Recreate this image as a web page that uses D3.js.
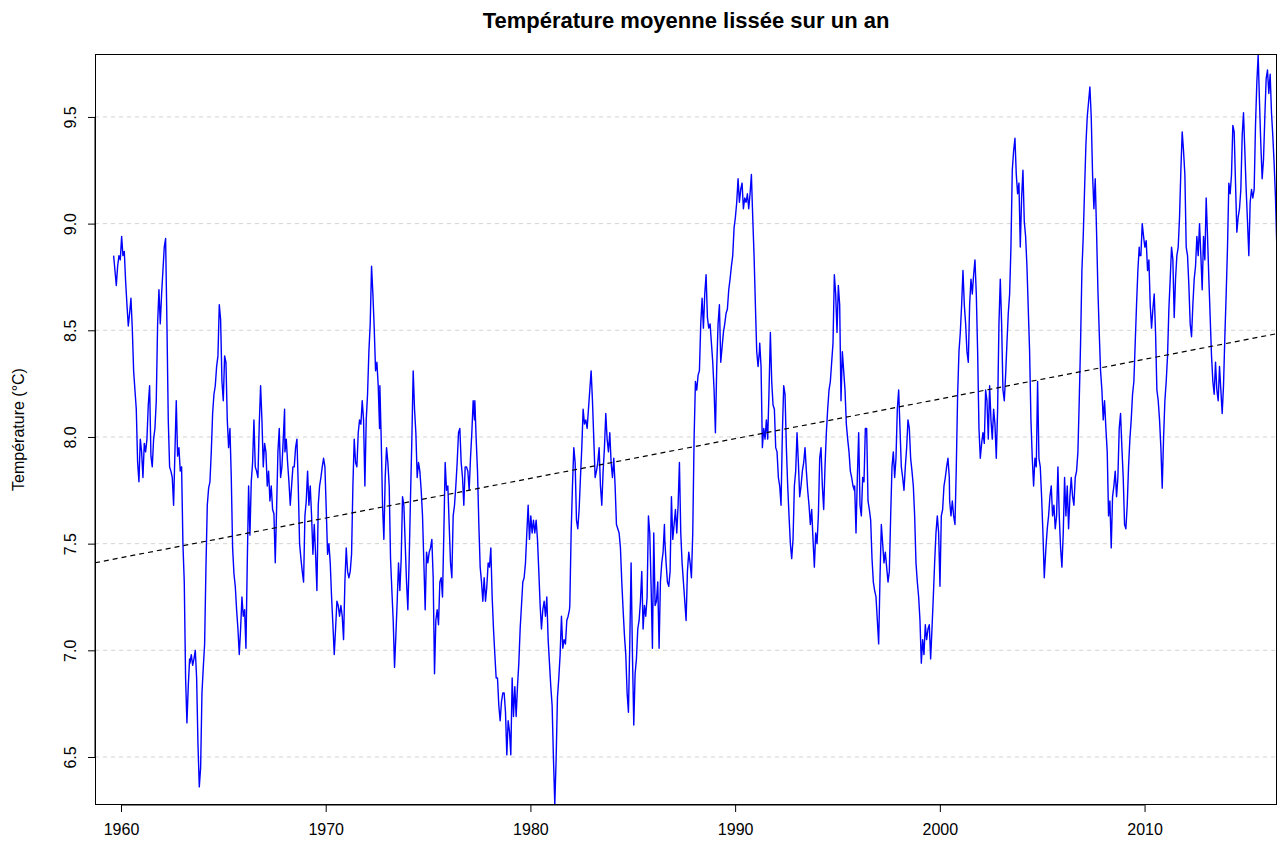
<!DOCTYPE html>
<html><head><meta charset="utf-8">
<script src="https://cdn.jsdelivr.net/npm/d3@7"></script>
<style>body{margin:0;background:#fff}svg{display:block}text{font-family:"Liberation Sans",Arial,Helvetica,sans-serif}</style>
</head><body><svg id="c" width="1279" height="849"></svg>
<script>
// ---- Data ----
const title = "Température moyenne lissée sur un an";
const yLabel = "Température (°C)";
const xTicks = [1960, 1970, 1980, 1990, 2000, 2010];
const yTicks = [6.5, 7.0, 7.5, 8.0, 8.5, 9.0, 9.5];
const xDomain = [1958.73, 2016.47];
const yDomain = [6.275, 9.795];
const trendIntercept1960 = 7.434;   // linear trend value at 1960
const trendSlope = 0.0186;          // °C per year
const stepYears = 0.0651;           // spacing between readings
const segStart = [1959.64, 1963.369, 1968.008, 1972.646, 1977.285, 1981.924, 1986.563, 1991.201, 1995.840, 2000.479, 2005.117, 2009.756];
const seg1 = [8.85,8.78,8.71,8.80,8.85,8.83,8.94,8.85,8.87,8.73,8.62,8.52,8.58,8.65,8.51,8.31,8.22,8.13,7.88,7.79,7.99,7.93,7.81,7.97,7.93,7.99,8.15,8.24,7.91,7.86,7.99,8.04,8.17,8.53,8.69,8.53,8.67,8.78,8.89,8.93,8.53,8.08,7.86,7.84,7.81,7.68,7.93,8.17,7.91,7.95,7.84,7.86,7.50,7.32,6.87,6.66,6.83,6.96];
const seg2 = [6.94,6.98,6.93,6.96,7.00,6.87,6.56,6.36,6.45,6.80,6.92,7.03,7.39,7.68,7.76,7.79,7.93,8.11,8.20,8.24,8.33,8.38,8.62,8.55,8.26,8.17,8.38,8.35,8.08,7.95,8.04,7.81,7.48,7.36,7.30,7.19,7.10,6.98,7.10,7.25,7.16,7.19,7.01,7.41,7.77,7.54,7.79,7.88,8.08,7.86,7.84,7.81,8.06,8.24,8.08,7.86,7.97,7.93,7.77,7.84,7.70,7.77,7.66,7.64,7.41,7.66,7.93,8.04,7.81,7.86,7.99,8.13];
const seg3 = [7.93,7.99,7.88,7.79,7.68,7.77,7.86,7.86,7.95,7.99,7.77,7.50,7.43,7.37,7.32,7.63,7.70,7.84,7.68,7.77,7.63,7.45,7.59,7.45,7.28,7.68,7.77,7.81,7.86,7.90,7.86,7.66,7.45,7.50,7.41,7.25,7.12,6.98,7.10,7.23,7.21,7.16,7.21,7.16,7.05,7.32,7.48,7.37,7.34,7.37,7.45,7.77,7.99,7.88,7.86,8.02,8.08,8.06,8.17,8.08,7.77,8.08,8.20,8.40,8.53,8.80,8.67,8.51,8.31,8.35,8.24,8.04];
const seg4 = [8.24,7.99,7.68,7.52,7.81,7.95,7.88,7.77,7.43,7.28,7.14,6.92,7.07,7.23,7.41,7.28,7.43,7.72,7.68,7.50,7.32,7.19,7.43,7.72,7.99,8.31,8.13,8.02,7.81,7.88,7.84,7.75,7.63,7.41,7.19,7.46,7.41,7.46,7.48,7.52,7.34,6.89,7.14,7.19,7.12,7.32,7.34,7.25,7.55,7.88,7.75,7.77,7.59,7.41,7.34,7.63,7.68,7.77,7.88,8.02,8.04,7.88,7.81,7.68,7.86,7.86,7.84,7.75,7.90,8.02,8.17,8.08];
const seg5 = [8.17,7.99,7.84,7.59,7.39,7.32,7.23,7.34,7.23,7.30,7.41,7.39,7.48,7.25,7.10,6.98,6.87,6.87,6.74,6.67,6.76,6.80,6.80,6.71,6.51,6.67,6.62,6.51,6.87,6.69,6.83,6.69,6.83,6.94,7.10,7.21,7.32,7.34,7.41,7.55,7.68,7.52,7.63,7.55,7.61,7.55,7.61,7.52,7.37,7.21,7.10,7.19,7.23,7.16,7.25,7.05,6.94,6.83,6.74,6.49,6.28,6.49,6.78,6.87,6.98,7.16,7.01,7.05,7.03,7.14,7.16,7.19];
const seg6 = [7.21,7.55,7.77,7.95,7.88,7.61,7.57,7.66,7.81,7.95,8.13,8.06,8.08,8.04,8.13,8.22,8.31,8.17,7.99,7.81,7.84,7.88,7.95,7.77,7.68,7.84,7.95,8.11,7.99,7.93,8.02,7.88,7.81,7.90,7.77,7.59,7.57,7.55,7.48,7.32,7.19,7.07,6.98,6.80,6.71,7.03,7.41,6.98,6.65,6.89,6.96,7.10,7.14,7.23,7.37,7.10,7.21,7.16,7.25,7.63,7.55,7.30,7.01,7.55,7.21,7.23,7.32,7.01,7.32,7.41,7.46,7.59];
const seg7 = [7.52,7.41,7.32,7.30,7.37,7.72,7.52,7.59,7.66,7.55,7.68,7.88,7.55,7.41,7.32,7.23,7.14,7.37,7.46,7.41,7.34,7.55,7.99,8.26,8.22,8.29,8.31,8.53,8.65,8.51,8.67,8.76,8.56,8.51,8.53,8.44,8.35,8.22,8.02,8.33,8.53,8.62,8.35,8.42,8.49,8.53,8.58,8.60,8.69,8.74,8.80,8.85,8.98,9.03,9.10,9.21,9.10,9.16,9.19,9.07,9.12,9.10,9.14,9.07,9.14,9.23,9.03,8.85,8.62,8.40,8.33,8.40];
const seg8 = [8.44,8.33,7.95,8.04,7.99,8.08,7.99,8.22,8.49,8.26,8.15,8.13,7.95,7.93,7.81,7.77,7.68,8.02,8.24,8.20,7.95,7.77,7.63,7.50,7.43,7.52,7.77,7.84,8.02,7.88,7.72,7.77,7.84,7.88,7.95,7.84,7.75,7.68,7.59,7.66,7.52,7.39,7.55,7.50,7.63,7.90,7.95,7.77,7.66,7.86,8.02,8.13,8.22,8.26,8.35,8.44,8.76,8.67,8.49,8.71,8.62,8.17,8.40,8.31,8.22,8.06,7.99,7.93,7.84,7.81,7.77,7.75];
const seg9 = [7.77,7.55,7.81,8.02,7.68,7.63,7.81,7.79,8.04,8.04,7.70,7.66,7.61,7.43,7.32,7.28,7.25,7.14,7.03,7.34,7.59,7.50,7.41,7.46,7.39,7.32,7.37,7.63,7.86,7.93,7.81,7.90,8.13,8.22,8.04,7.86,7.81,7.75,7.86,7.95,8.08,8.04,7.90,7.84,7.77,7.63,7.41,7.32,7.25,7.14,6.94,7.05,6.98,7.12,7.05,7.10,7.12,6.96,7.10,7.25,7.41,7.55,7.63,7.55,7.30,7.63,7.66,7.77,7.81,7.86,7.90,7.81];
const seg10 = [7.70,7.63,7.70,7.63,7.59,7.86,8.20,8.40,8.49,8.62,8.78,8.62,8.53,8.40,8.35,8.62,8.74,8.67,8.76,8.83,8.67,8.40,8.04,7.90,7.97,8.02,7.97,8.22,8.17,7.99,8.24,8.08,7.99,8.13,8.06,7.90,8.13,8.53,8.74,8.53,8.22,8.17,8.29,8.44,8.58,8.67,8.89,9.25,9.34,9.40,9.23,9.14,9.19,8.89,9.12,9.25,9.01,8.94,8.80,8.60,8.40,8.08,7.90,7.77,7.90,7.86,8.26,7.90,7.86,7.72,7.55,7.34];
const seg11 = [7.37,7.48,7.57,7.63,7.72,7.77,7.63,7.68,7.57,7.63,7.86,7.63,7.48,7.39,7.55,7.81,7.63,7.77,7.57,7.72,7.81,7.72,7.68,7.81,7.84,7.93,8.17,8.44,8.78,8.94,9.16,9.37,9.50,9.57,9.64,9.50,9.23,9.07,9.21,8.96,8.69,8.49,8.31,8.22,8.08,8.17,8.04,7.93,7.63,7.70,7.48,7.72,7.77,7.84,7.72,7.81,8.04,8.11,7.95,7.81,7.59,7.57,7.68,7.86,7.99,8.08,8.20,8.26,8.44,8.62,8.78,8.89];
const seg12 = [8.85,8.85,9.00,8.94,8.89,8.92,8.78,8.83,8.62,8.51,8.60,8.67,8.49,8.22,8.17,8.08,7.95,7.76,7.99,8.17,8.26,8.38,8.60,8.74,8.89,8.83,8.56,8.74,8.85,8.89,9.03,9.25,9.43,9.34,9.23,8.89,8.85,8.71,8.53,8.47,8.62,8.74,8.80,8.94,8.85,9.00,8.85,8.69,8.94,8.83,9.12,8.94,8.74,8.56,8.38,8.26,8.20,8.35,8.22,8.17,8.33,8.22,8.11,8.24,8.47,8.67,8.89,9.19,9.14,9.23,9.46,9.43,9.19,8.96,9.03,9.07,9.16,9.41,9.52,9.34,9.16,9.01,8.85,9.10,9.16,9.12,9.16,9.46,9.66,9.79,9.57,9.37,9.21,9.30,9.50,9.68,9.72,9.61,9.70,9.52,9.41,9.28,9.12,8.89];

const segments = [seg1,seg2,seg3,seg4,seg5,seg6,seg7,seg8,seg9,seg10,seg11,seg12];
const series = [];
segments.forEach((s, k) => s.forEach((v, i) => series.push({t: segStart[k] + i * stepYears, v})));

// ---- Drawing ----
const FONT = '"Liberation Sans",Arial,sans-serif';
const svg = d3.select("#c");
const L = 95, R = 1277, T = 54, B = 805;
const x = d3.scaleLinear().domain(xDomain).range([L, R]);
const y = d3.scaleLinear().domain(yDomain).range([B, T]);

svg.append("rect").attr("width",1279).attr("height",849).attr("fill","#fff");

// grid
svg.append("g").selectAll("line").data(yTicks).join("line")
  .attr("x1", L).attr("x2", R)
  .attr("y1", d => y(d)).attr("y2", d => y(d))
  .attr("stroke", "#d3d3d3").attr("stroke-width", 1).attr("stroke-dasharray", "4,4");

// clip
svg.append("clipPath").attr("id","clip").append("rect")
  .attr("x", L).attr("y", T).attr("width", R - L).attr("height", B - T);

const plot = svg.append("g").attr("clip-path","url(#clip)");
plot.append("path").datum(series)
  .attr("fill","none").attr("stroke","#0000ff").attr("stroke-width",1.4)
  .attr("stroke-linejoin","round")
  .attr("d", d3.line().x(d => x(d.t)).y(d => y(d.v)));

// trend
const trendPts = xDomain.map(t => ({t, v: trendIntercept1960 + trendSlope * (t - 1960)}));
plot.append("path").datum(trendPts)
  .attr("fill","none").attr("stroke","#000").attr("stroke-width",1.2)
  .attr("stroke-dasharray","5,4")
  .attr("d", d3.line().x(d => x(d.t)).y(d => y(d.v)));

// box
svg.append("rect").attr("x", L + 0.5).attr("y", T + 0.5).attr("width", R - L - 1).attr("height", B - T - 1)
  .attr("fill","none").attr("stroke","#000").attr("stroke-width",1);

// x axis
const gx = svg.append("g").attr("transform", `translate(0,${B})`)
  .call(d3.axisBottom(x).tickValues(xTicks).tickFormat(d3.format("d")).tickSize(7).tickPadding(12));
gx.select(".domain").remove();
gx.append("line").attr("x1", x(xTicks[0])).attr("x2", x(xTicks[xTicks.length-1])).attr("stroke","#000");
gx.selectAll("text").attr("font-size", 16).attr("fill","#000").attr("font-family", FONT);

// y axis
const gy = svg.append("g").attr("transform", `translate(${L},0)`)
  .call(d3.axisLeft(y).tickValues(yTicks).tickFormat(d3.format(".1f")).tickSize(7));
gy.select(".domain").remove();
gy.append("line").attr("y1", y(yTicks[0])).attr("y2", y(yTicks[yTicks.length-1])).attr("stroke","#000");
gy.selectAll(".tick text")
  .attr("x", null).attr("dy", null).attr("text-anchor","middle")
  .attr("transform","translate(-19,0) rotate(-90)")
  .attr("font-size", 16).attr("fill","#000").attr("font-family", FONT);

// titles
svg.append("text").attr("x", (L + R) / 2).attr("y", 28).attr("text-anchor","middle")
  .attr("font-size", 22).attr("font-weight","bold").attr("font-family", FONT).text(title);
svg.append("text").attr("transform", `translate(24,${(T + B) / 2}) rotate(-90)`)
  .attr("text-anchor","middle").attr("font-size", 16).attr("font-family", FONT).text(yLabel);
</script></body></html>
